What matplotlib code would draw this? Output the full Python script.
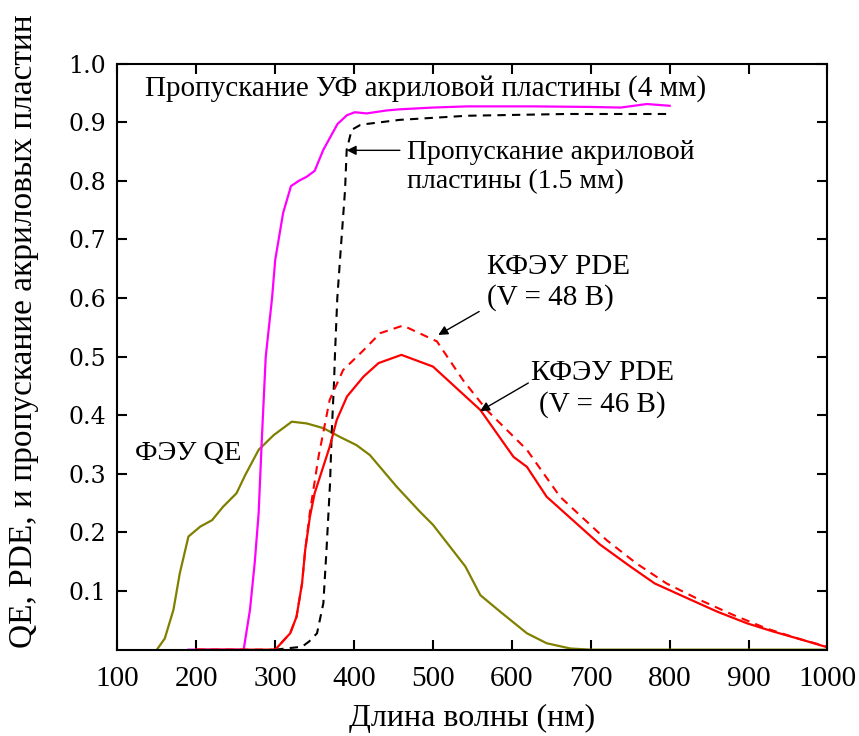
import matplotlib
matplotlib.use("Agg")
import matplotlib.pyplot as plt

# Spectral data (wavelength in nm)
uv_x = [190, 260, 268, 274, 279, 283, 288, 296, 300, 310, 320, 330, 340, 350, 361,
        370, 379, 391, 401, 416, 441, 458, 500, 543, 600, 627, 700, 738, 771, 800]
uv_y = [0.0, 0.0, 0.068, 0.148, 0.233, 0.358, 0.50, 0.60, 0.665, 0.745, 0.791, 0.80,
        0.807, 0.817, 0.853, 0.875, 0.897, 0.912, 0.917, 0.915, 0.920, 0.922, 0.925,
        0.927, 0.927, 0.927, 0.926, 0.925, 0.931, 0.928]

ac_x = [300, 334, 343, 353, 361, 365, 369.5, 371.6, 374.5, 375.8, 378.7, 383, 388.5,
        390.6, 396.9, 407.5, 416, 458, 543, 669, 800]
ac_y = [0.0, 0.005, 0.014, 0.028, 0.079, 0.17, 0.284, 0.37, 0.455, 0.506, 0.60, 0.682,
        0.784, 0.853, 0.887, 0.895, 0.897, 0.904, 0.911, 0.914, 0.914]

qe_x = [150, 160, 171, 179, 190, 205, 220, 234, 251, 262, 279, 298, 321, 340, 361,
        382, 403, 420, 454, 483, 500, 541, 560, 585, 619, 644, 674, 700, 1000]
qe_y = [0.0, 0.019, 0.068, 0.13, 0.193, 0.21, 0.221, 0.244, 0.267, 0.298, 0.341,
        0.366, 0.389, 0.386, 0.378, 0.363, 0.349, 0.332, 0.278, 0.236, 0.213, 0.142,
        0.093, 0.065, 0.028, 0.011, 0.002, 0.0, 0.0]

pde46_x = [200, 300, 319, 327, 334, 338, 344, 350, 369, 378, 391, 412, 431, 460, 500,
           560, 602, 619, 644, 712, 750, 781, 822, 860, 898, 931, 965, 1000]
pde46_y = [0.0, 0.0, 0.028, 0.056, 0.113, 0.17, 0.227, 0.267, 0.346, 0.392, 0.432,
           0.466, 0.489, 0.503, 0.483, 0.409, 0.329, 0.312, 0.261, 0.179, 0.142, 0.113,
           0.088, 0.065, 0.045, 0.031, 0.018, 0.004]

pde48_x = [200, 300, 319, 327, 334, 338, 344, 355, 369, 386, 412, 433, 462, 505, 538,
           568, 619, 661, 720, 758, 796, 838, 881, 923, 965, 1000]
pde48_y = [0.0, 0.0, 0.028, 0.056, 0.113, 0.17, 0.235, 0.33, 0.426, 0.477, 0.511,
           0.54, 0.553, 0.526, 0.46, 0.409, 0.341, 0.261, 0.187, 0.147, 0.113, 0.085,
           0.059, 0.036, 0.018, 0.005]

x_ticks = [100, 200, 300, 400, 500, 600, 700, 800, 900, 1000]
y_ticks = [0.1, 0.2, 0.3, 0.4, 0.5, 0.6, 0.7, 0.8, 0.9, 1.0]

serif = "Liberation Serif"
plt.rcParams["font.family"] = [serif, "DejaVu Serif"]

fig = plt.figure(figsize=(8.59, 7.36), dpi=100)
ax = fig.add_axes([0.1367, 0.1173, 0.8266, 0.7963])

ax.plot(qe_x, qe_y, color="#808000", lw=1.6)
ax.plot(uv_x, uv_y, color="#FF00FF", lw=1.6)
ax.plot(ac_x, ac_y, color="black", lw=1.5, ls=(0, (4, 3)))
ax.plot(pde48_x, pde48_y, color="#FF0000", lw=1.5, ls=(0, (4, 3)))
ax.plot(pde46_x, pde46_y, color="#FF0000", lw=1.6)

ax.set_xlim(100, 1000)
ax.set_ylim(0, 1.0)
ax.set_xticks(x_ticks)
ax.set_yticks(y_ticks)
ax.set_xticklabels([str(v) for v in x_ticks], fontsize=21, family=serif)
ax.set_yticklabels([f"{v:.1f}" for v in y_ticks], fontsize=17, family="DejaVu Serif")
ax.tick_params(direction="in", length=7, width=1.5, top=True, right=True, pad=8)
ax.tick_params(axis="x", pad=12)
for s in ax.spines.values():
    s.set_linewidth(1.5)

ax.set_xlabel("Длина волны (нм)", fontsize=23, labelpad=8)
fig.text(24 / 859, 1 - 331 / 736, "QE, PDE, и пропускание акриловых пластин",
         fontsize=24, rotation=90, ha="center", va="center")

ax.text(135, 0.958, "Пропускание УФ акриловой пластины (4 мм)", fontsize=21,
        ha="left", va="center")
ax.text(467, 0.824, "Пропускание акриловой\nпластины (1.5 мм)", fontsize=20,
        ha="left", va="center", linespacing=1.2)
ax.text(568.5, 0.627, "КФЭУ PDE\n(V = 48 В)", fontsize=21, ha="left", va="center",
        linespacing=1.2)
ax.text(715, 0.445, "КФЭУ PDE\n(V = 46 В)", fontsize=21, ha="center", va="center",
        linespacing=1.25)
ax.text(122.3, 0.334, "ФЭУ QE", fontsize=20.5, ha="left", va="center")

arrow = dict(arrowstyle="-|>", color="black", lw=1.0, mutation_scale=14,
             shrinkA=0, shrinkB=0)
ax.annotate("", xy=(390.6, 0.852), xytext=(458, 0.852), arrowprops=arrow)
ax.annotate("", xy=(506.7, 0.537), xytext=(558.5, 0.577), arrowprops=arrow)
ax.annotate("", xy=(559.6, 0.407), xytext=(620.8, 0.455), arrowprops=arrow)

fig.savefig("out.png", dpi=100)
